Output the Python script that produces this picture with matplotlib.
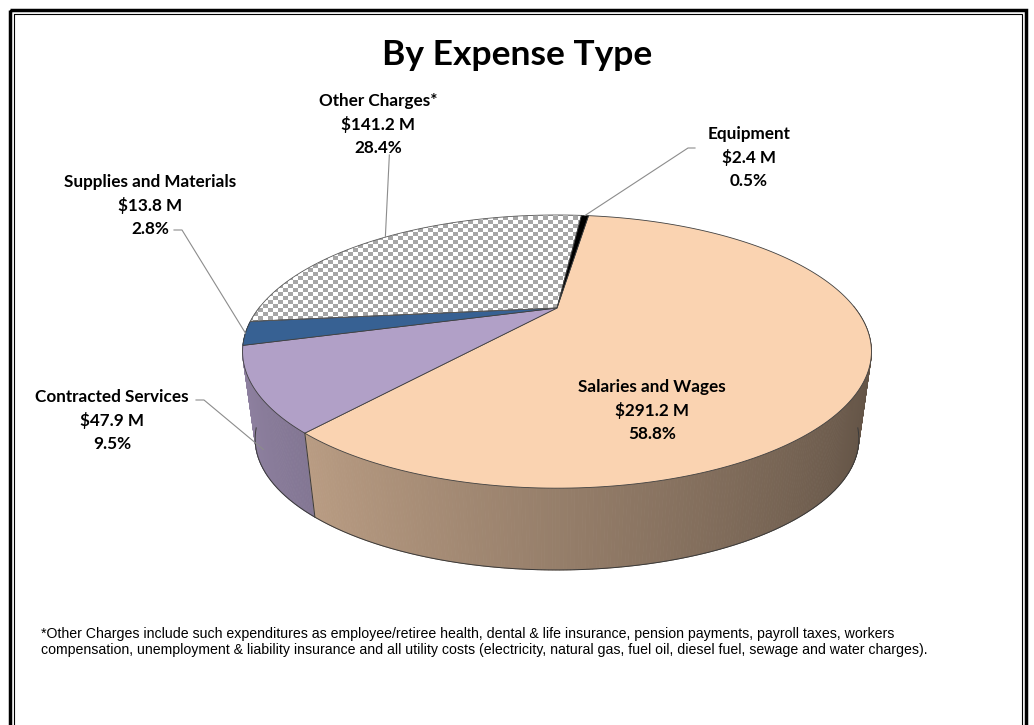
import numpy as np
import matplotlib.pyplot as plt
from matplotlib.patches import Polygon, Rectangle
from matplotlib.colors import to_rgb

# data, in the order Excel draws it (clockwise)
categories = ['Salaries and Wages', 'Contracted Services', 'Supplies and Materials',
              'Other Charges*', 'Equipment']
amounts = ['$291.2 M', '$47.9 M', '$13.8 M', '$141.2 M', '$2.4 M']
percents = [58.8, 9.5, 2.8, 28.4, 0.5]
colors = ['#FAD3B1', '#B1A0C7', '#376193', '#A6A6A6', '#000000']

footnote = ("*Other Charges include such expenditures as employee/retiree health, dental & life insurance, "
            "pension payments, payroll taxes, workers\n"
            "compensation, unemployment & liability insurance and all utility costs (electricity, natural gas, "
            "fuel oil, diesel fuel, sewage and water charges).")

# pie geometry (pixels), tilted with a bit of perspective
cx, cy = 557, 308
R, RY, K = 298, 122.7, 0.319
SB, DB = 0.96, 89
START = 82


def proj(theta, h=0.0):
    t = np.radians(theta)
    w = 1 + K * np.sin(t)
    s = 1 + (SB - 1) * h
    return cx + s * R * np.cos(t) / w, cy - s * RY * np.sin(t) / w + DB * h


fig = plt.figure(figsize=(10.34, 7.25), dpi=100)
ax = fig.add_axes([0, 0, 1, 1])
ax.set_xlim(0, 1034)
ax.set_ylim(725, 0)
ax.axis('off')

cum = np.concatenate([[0], np.cumsum(percents)])
a_start = START - cum[:-1] * 3.6
a_end = START - cum[1:] * 3.6

# side walls, back to front
quads = []
for i in range(len(percents)):
    steps = np.linspace(a_end[i], a_start[i], max(int((a_start[i] - a_end[i]) / 0.5), 2) + 1)
    for t0, t1 in zip(steps[:-1], steps[1:]):
        mid = (t0 + t1) / 2
        if np.sin(np.radians(mid)) > 0.02:
            continue
        shade = 0.6 - 0.22 * np.cos(np.radians(mid))
        if i == 3:
            shade = 0.75
        c = tuple(min(1, v * shade) for v in to_rgb(colors[i]))
        pts = [proj(t0, 0), proj(t1, 0), proj(t1, 1), proj(t0, 1)]
        quads.append((np.sin(np.radians(mid)), pts, c))
quads.sort(key=lambda q: -q[0])
for _, pts, c in quads:
    ax.add_patch(Polygon(pts, closed=True, facecolor=c, edgecolor=c, lw=0.6))

# wall outlines
tb = np.linspace(194, 346, 200)
bx, by = proj(tb, 1)
ax.plot(bx, by, color='#3a3a3a', lw=0.7)
for a in a_start:
    if np.sin(np.radians(a)) < -0.3:
        x0, y0 = proj(a, 0)
        x1, y1 = proj(a, 1)
        ax.plot([x0, x1], [y0, y1], color='#3a3a3a', lw=0.7)

# top faces
for i in range(len(percents)):
    tt = np.linspace(a_start[i], a_end[i], 200)
    xs, ys = proj(tt, 0)
    pts = np.column_stack([np.r_[cx, xs], np.r_[cy, ys]])
    if i == 3:
        poly = Polygon(pts, closed=True, facecolor='white', edgecolor='none', zorder=1)
        ax.add_patch(poly)
        x0, x1 = int(pts[:, 0].min()) - 2, int(pts[:, 0].max()) + 2
        y0, y1 = int(pts[:, 1].min()) - 2, int(pts[:, 1].max()) + 2
        yy, xx = np.mgrid[0:(y1 - y0), 0:(x1 - x0)]
        cell = ((xx // 5 + yy // 4) % 2).astype(float)[..., None]
        tex = cell * np.ones(3) + (1 - cell) * np.array(to_rgb(colors[3]))
        im = ax.imshow(tex, extent=(x0, x1, y1, y0), origin='upper',
                       interpolation='nearest', aspect='auto', zorder=1.5)
        im.set_clip_path(poly)
        ax.add_patch(Polygon(pts, closed=True, facecolor='none', edgecolor='#595959',
                             lw=0.6, zorder=1.6))
    else:
        ax.add_patch(Polygon(pts, closed=True, facecolor=colors[i], edgecolor='#404040',
                             lw=0.6, zorder=1.6))
ax.set_xlim(0, 1034)
ax.set_ylim(725, 0)

# labels
font = dict(family='Lato', fontweight='bold', fontsize=12.3, color='black',
            ha='center', va='center', zorder=3)
label_pos = [(652, 410), (112, 420), (150, 205), (378, 124), (749, 157)]
for i, (lx, ly) in enumerate(label_pos):
    for j, s in enumerate([categories[i], amounts[i], f'{percents[i]}%']):
        ax.text(lx, ly + (j - 1) * 23.5, s, **font)

# leader lines
lc = dict(color='#8c8c8c', lw=0.8, zorder=2)
mid = (a_start + a_end) / 2
tx, ty = proj(mid[3], 0)
ax.plot([tx + 4, tx], [155, ty], **lc)
tx, ty = proj(mid[4], 0)
ax.plot([695, 688, tx], [148, 148, ty], **lc)
tx, ty = proj(mid[2], 0)
ax.plot([174, 182, tx], [230, 230, ty], **lc)
tx, ty = proj(mid[1], 0.7)
ax.plot([196, 204, tx], [400, 400, ty], **lc)

ax.text(517, 55, 'By Expense Type', family='Lato', fontweight='bold', fontsize=25.5,
        ha='center', va='center')
ax.text(41, 642, footnote, family='Liberation Sans', fontsize=10.2, ha='left', va='center',
        linespacing=1.1)

# frame
ax.add_patch(Rectangle((9.5, 9.5), 1016, 740, fill=False, edgecolor='black', lw=2.5))
ax.add_patch(Rectangle((13.5, 13.5), 1008, 740, fill=False, edgecolor='black', lw=0.8))

fig.savefig('out.png', dpi=100)
